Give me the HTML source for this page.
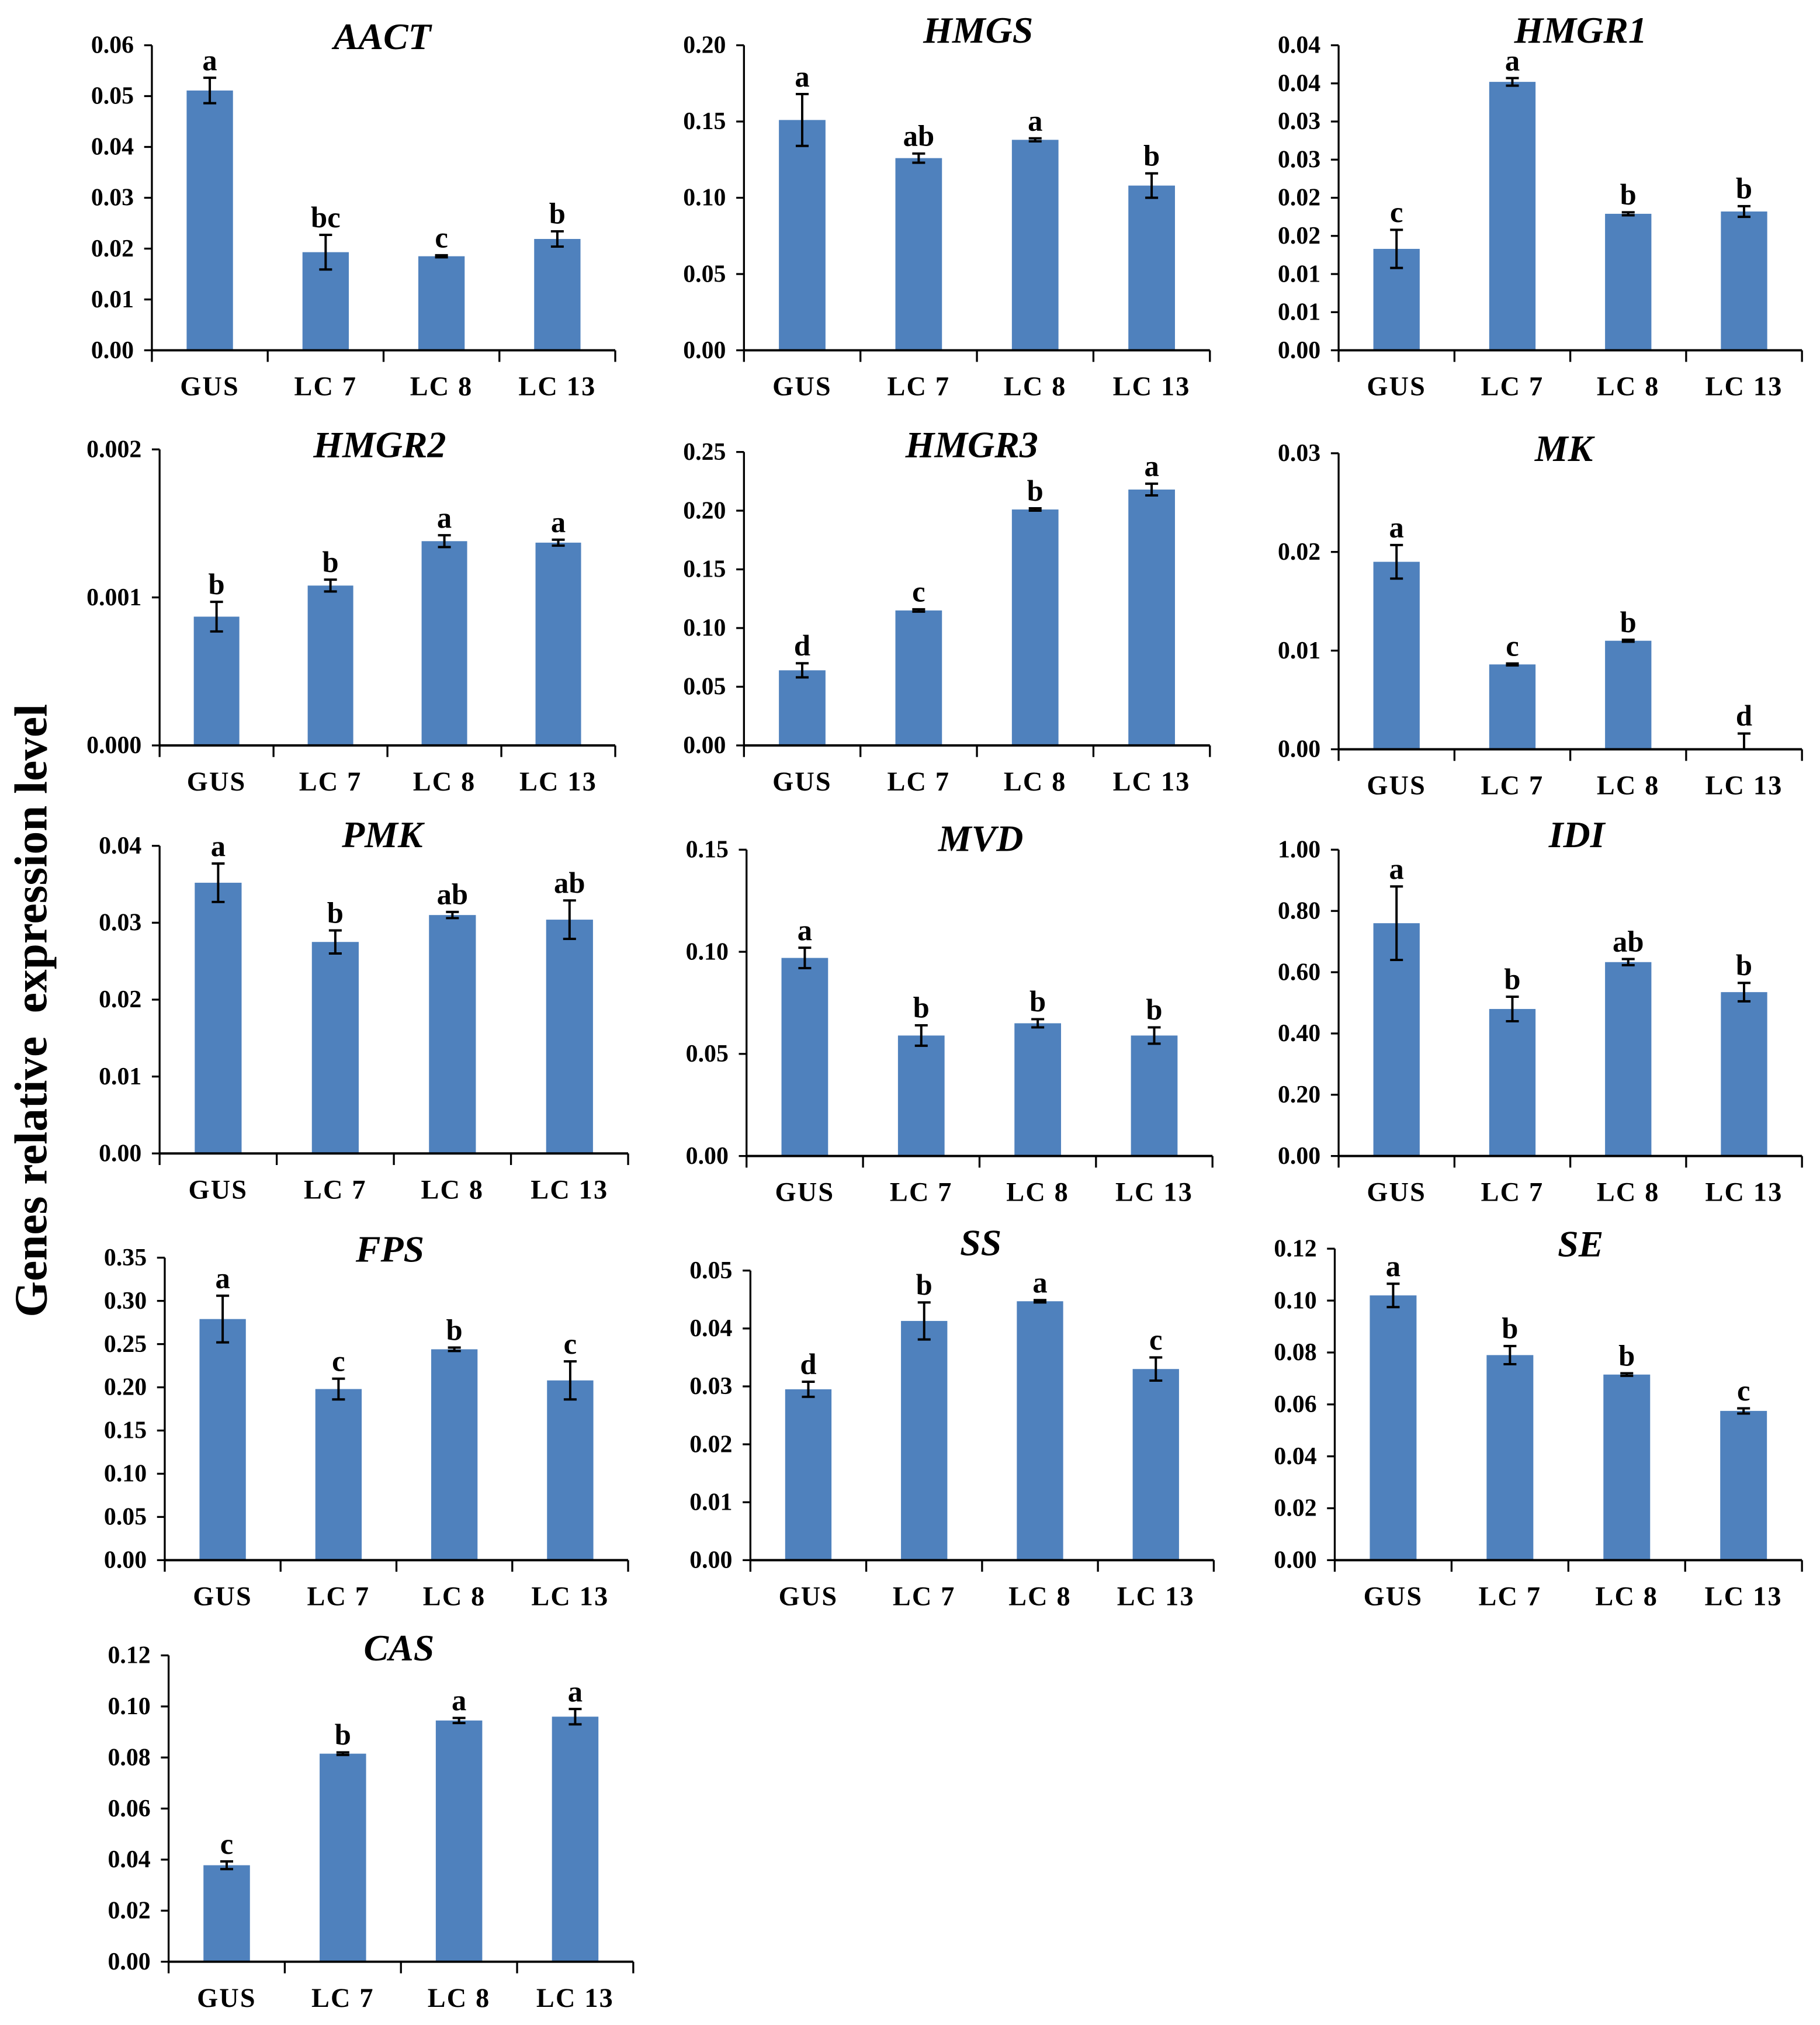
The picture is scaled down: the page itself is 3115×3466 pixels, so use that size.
<!DOCTYPE html>
<html><head><meta charset="utf-8"><style>
html,body{margin:0;padding:0;background:#fff;}
svg{display:block;}
text{font-family:"Liberation Serif",serif;font-weight:bold;fill:#000;}
</style></head><body>
<svg id="fig" xmlns="http://www.w3.org/2000/svg" width="3115" height="3466" viewBox="0 0 1414 1573">
<rect width="1414" height="1573" fill="#fff"/>
<text x="0" y="0" font-size="36" text-anchor="middle" transform="translate(36,785) rotate(-90)" xml:space="preserve">Genes relative  expression level</text>
</svg>
<script>
const categories = ["GUS","LC 7","LC 8","LC 13"];

const aactValues = [0.0511,0.0193,0.0185,0.0219];
const aactErrors = [0.0025,0.0034,0.0002,0.0015];
const aactLetters = ["a","bc","c","b"];
const aactTicks = ["0.00","0.01","0.02","0.03","0.04","0.05","0.06"];

const hmgsValues = [0.151,0.126,0.138,0.108];
const hmgsErrors = [0.017,0.003,0.001,0.008];
const hmgsLetters = ["a","ab","a","b"];
const hmgsTicks = ["0.00","0.05","0.10","0.15","0.20"];

const hmgr1Values = [0.0133,0.0352,0.0179,0.0182];
const hmgr1Errors = [0.0025,0.0005,0.0002,0.0007];
const hmgr1Letters = ["c","a","b","b"];
const hmgr1Ticks = ["0.00","0.01","0.01","0.02","0.02","0.03","0.03","0.04","0.04"];

const hmgr2Values = [0.00087,0.00108,0.00138,0.00137];
const hmgr2Errors = [0.0001,0.00004,0.00004,0.00002];
const hmgr2Letters = ["b","b","a","a"];
const hmgr2Ticks = ["0.000","0.001","0.002"];

const hmgr3Values = [0.064,0.115,0.201,0.218];
const hmgr3Errors = [0.006,0.001,0.001,0.005];
const hmgr3Letters = ["d","c","b","a"];
const hmgr3Ticks = ["0.00","0.05","0.10","0.15","0.20","0.25"];

const mkValues = [0.019,0.0086,0.011,0.0001];
const mkErrors = [0.0017,0.0001,0.0001,0.0015];
const mkLetters = ["a","c","b","d"];
const mkTicks = ["0.00","0.01","0.02","0.03"];

const pmkValues = [0.0352,0.0275,0.0310,0.0304];
const pmkErrors = [0.0025,0.0015,0.0004,0.0025];
const pmkLetters = ["a","b","ab","ab"];
const pmkTicks = ["0.00","0.01","0.02","0.03","0.04"];

const mvdValues = [0.097,0.059,0.065,0.059];
const mvdErrors = [0.005,0.005,0.002,0.004];
const mvdLetters = ["a","b","b","b"];
const mvdTicks = ["0.00","0.05","0.10","0.15"];

const idiValues = [0.76,0.48,0.633,0.535];
const idiErrors = [0.12,0.04,0.01,0.03];
const idiLetters = ["a","b","ab","b"];
const idiTicks = ["0.00","0.20","0.40","0.60","0.80","1.00"];

const fpsValues = [0.279,0.198,0.244,0.208];
const fpsErrors = [0.027,0.012,0.002,0.022];
const fpsLetters = ["a","c","b","c"];
const fpsTicks = ["0.00","0.05","0.10","0.15","0.20","0.25","0.30","0.35"];

const ssValues = [0.0295,0.0413,0.0447,0.033];
const ssErrors = [0.0013,0.0032,0.0002,0.002];
const ssLetters = ["d","b","a","c"];
const ssTicks = ["0.00","0.01","0.02","0.03","0.04","0.05"];

const seValues = [0.102,0.079,0.0715,0.0575];
const seErrors = [0.0045,0.0035,0.0005,0.001];
const seLetters = ["a","b","b","c"];
const seTicks = ["0.00","0.02","0.04","0.06","0.08","0.10","0.12"];

const casValues = [0.0378,0.0815,0.0945,0.096];
const casErrors = [0.0015,0.0005,0.001,0.003];
const casLetters = ["c","b","a","a"];
const casTicks = ["0.00","0.02","0.04","0.06","0.08","0.10","0.12"];

const NS = "http://www.w3.org/2000/svg";
const svg = document.getElementById("fig");
function mk(tag, attrs, parent){
  const e = document.createElementNS(NS, tag);
  for (const k in attrs) e.setAttribute(k, attrs[k]);
  parent.appendChild(e);
  return e;
}

const panels = [
  {id:"aact", title:"AACT", v:aactValues, e:aactErrors, l:aactLetters, t:aactTicks, max:0.06, ax:118, top:35, bot:272, right:478, tx:297, ty:38},
  {id:"hmgs", title:"HMGS", v:hmgsValues, e:hmgsErrors, l:hmgsLetters, t:hmgsTicks, max:0.20, ax:578, top:35, bot:272, right:940, tx:760, ty:33},
  {id:"hmgr1", title:"HMGR1", v:hmgr1Values, e:hmgr1Errors, l:hmgr1Letters, t:hmgr1Ticks, max:0.04, ax:1040, top:35, bot:272, right:1400, tx:1228, ty:33},
  {id:"hmgr2", title:"HMGR2", v:hmgr2Values, e:hmgr2Errors, l:hmgr2Letters, t:hmgr2Ticks, max:0.002, ax:124, top:349, bot:579, right:478, tx:295, ty:355},
  {id:"hmgr3", title:"HMGR3", v:hmgr3Values, e:hmgr3Errors, l:hmgr3Letters, t:hmgr3Ticks, max:0.25, ax:578, top:351, bot:579, right:940, tx:755, ty:355},
  {id:"mk", title:"MK", v:mkValues, e:mkErrors, l:mkLetters, t:mkTicks, max:0.03, ax:1040, top:352, bot:582, right:1400, tx:1215, ty:358},
  {id:"pmk", title:"PMK", v:pmkValues, e:pmkErrors, l:pmkLetters, t:pmkTicks, max:0.04, ax:124, top:657, bot:896, right:488, tx:297, ty:658},
  {id:"mvd", title:"MVD", v:mvdValues, e:mvdErrors, l:mvdLetters, t:mvdTicks, max:0.15, ax:580, top:660, bot:898, right:942, tx:762, ty:661},
  {id:"idi", title:"IDI", v:idiValues, e:idiErrors, l:idiLetters, t:idiTicks, max:1.0, ax:1040, top:660, bot:898, right:1400, tx:1225, ty:658},
  {id:"fps", title:"FPS", v:fpsValues, e:fpsErrors, l:fpsLetters, t:fpsTicks, max:0.35, ax:128, top:977, bot:1212, right:488, tx:303, ty:980},
  {id:"ss", title:"SS", v:ssValues, e:ssErrors, l:ssLetters, t:ssTicks, max:0.05, ax:583, top:987, bot:1212, right:943, tx:762, ty:975},
  {id:"se", title:"SE", v:seValues, e:seErrors, l:seLetters, t:seTicks, max:0.12, ax:1037, top:970, bot:1212, right:1400, tx:1228, ty:976},
  {id:"cas", title:"CAS", v:casValues, e:casErrors, l:casLetters, t:casTicks, max:0.12, ax:131, top:1286, bot:1524, right:492, tx:310, ty:1290}
];

panels.forEach(p => {
  const g = mk("g", {}, svg);
  
  
  const y = val => p.bot - (val / p.max) * (p.bot - p.top);
  const band = (p.right - p.ax) / categories.length;
  const xc = i => p.ax + band * (i + 0.5);

  const title = mk("text", {x:p.tx, y:p.ty, "font-size":29, "font-style":"italic", "text-anchor":"middle"}, g);
  
  
  title.textContent = p.title;

  p.v.forEach((val, i) => {
    const bw = band * 0.4;
    const r = mk("rect", {x:xc(i)-bw/2, y:y(val), width:bw, height:p.bot - y(val), fill:"#4f81bd"}, g);
    
    
    const eTop = y(val + p.e[i]), eBot = y(Math.max(0, val - p.e[i]));
    const eb = mk("path", {d:`M${xc(i)},${eTop}V${eBot}M${xc(i)-5},${eTop}H${xc(i)+5}M${xc(i)-5},${eBot}H${xc(i)+5}`, stroke:"#000", "stroke-width":1.8, fill:"none"}, g);
    
    
    const lt = mk("text", {x:xc(i), y:eTop - 6, "font-size":23, "text-anchor":"middle"}, g);
    
    
    lt.textContent = p.l[i];
    const cl = mk("text", {x:xc(i), y:p.bot + 35, "font-size":21, "text-anchor":"middle", "letter-spacing":"1"}, g);
    
    
    cl.textContent = categories[i];
  });

  const yAxis = mk("line", {x1:p.ax, y1:p.top, x2:p.ax, y2:p.bot, stroke:"#000", "stroke-width":1.5}, g);
  
  
  const xAxis = mk("line", {x1:p.ax, y1:p.bot, x2:p.right, y2:p.bot, stroke:"#000", "stroke-width":1.8}, g);
  
  
  for (let i = 0; i <= categories.length; i++) {
    const xx = p.ax + band * i;
    const tk = mk("line", {x1:xx, y1:p.bot, x2:xx, y2:p.bot + 9, stroke:"#000", "stroke-width":1.5}, g);
    
    
  }
  const n = p.t.length;
  p.t.forEach((lab, i) => {
    const yy = p.bot - (i / (n - 1)) * (p.bot - p.top);
    const tk = mk("line", {x1:p.ax - 6, y1:yy, x2:p.ax, y2:yy, stroke:"#000", "stroke-width":1.5}, g);
    
    
    const tl = mk("text", {x:p.ax - 14, y:yy + 6, "font-size":19, "text-anchor":"end"}, g);
    
    
    tl.textContent = lab;
  });
});
</script>
</body></html>
